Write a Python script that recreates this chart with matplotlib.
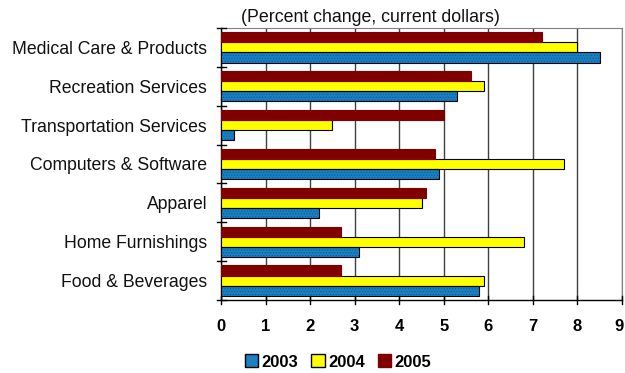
import matplotlib
matplotlib.use("Agg")
import matplotlib.pyplot as plt
import matplotlib.transforms as mtransforms
import numpy as np
from matplotlib.patches import Patch

plt.rcParams['font.family'] = ['Liberation Sans', 'DejaVu Sans']
plt.rcParams['hatch.linewidth'] = 0.5

categories = ["Food & Beverages", "Home Furnishings", "Apparel",
              "Computers & Software", "Transportation Services",
              "Recreation Services", "Medical Care & Products"]
v2003 = [5.8, 3.1, 2.2, 4.9, 0.3, 5.3, 8.5]
v2004 = [5.9, 6.8, 4.5, 7.7, 2.5, 5.9, 8.0]
v2005 = [2.7, 2.7, 4.6, 4.8, 5.0, 5.6, 7.2]
years = ["2003", "2004", "2005"]
xticks = list(range(10))

c2003, c2004, c2005 = "#1a80c4", "#ffff00", "#800000"
speckle = "#0d5a90"

fig = plt.figure(figsize=(6.25, 3.73), dpi=100)
ax = fig.add_axes([221/625, 1 - 300/373, 401/625, 272/373])

y = np.arange(len(categories))
h = 0.26
# textured fill, then a black outline on top
ax.barh(y - h, v2003, height=h, color=c2003, edgecolor=speckle, linewidth=0,
        hatch="......", zorder=3)
ax.barh(y - h, v2003, height=h, fill=False, edgecolor="black", linewidth=0.8,
        zorder=3.1)
ax.barh(y, v2004, height=h, color=c2004, edgecolor="black", linewidth=0.8, zorder=3)
ax.barh(y + h, v2005, height=h, color=c2005, edgecolor=c2005, linewidth=0.8, zorder=3)

ax.set_xlim(0, 9)
ax.set_ylim(-0.5, len(categories) - 0.5)
ax.set_xticks(xticks)
ax.set_xticklabels([str(t) for t in xticks], fontsize=12, fontweight="bold")
ax.set_yticks(y)
ax.set_yticklabels(categories, fontsize=12.7, color="#111111")
ax.tick_params(axis="y", length=0, pad=10)
ax.tick_params(axis="x", length=0, pad=14)

# keep the last x label inside the figure
last = ax.get_xticklabels()[-1]
last.set_transform(last.get_transform() +
                   mtransforms.ScaledTranslation(-3/100, 0, fig.dpi_scale_trans))

# boundary tick marks crossing the axes
for yb in np.arange(-0.5, len(categories), 1.0):
    ax.plot([-0.09, 0.11], [yb, yb], color="black", lw=1, clip_on=False, zorder=4)
for xt in xticks:
    ax.plot([xt, xt], [-0.5 - 0.1, -0.5 + 0.1], color="black", lw=1,
            clip_on=False, zorder=4)

ax.grid(axis="x", color="#404040", linewidth=1, zorder=1)
ax.grid(axis="y", visible=False)
for s in ("top", "right"):
    ax.spines[s].set_color("#808080")
for s in ("left", "bottom"):
    ax.spines[s].set_color("black")
    ax.spines[s].set_linewidth(1)

fig.text(370/625, 1 - 17/373, "(Percent change, current dollars)", fontsize=12.8,
         ha="center", va="center", color="#111111")

handles = [Patch(facecolor=c2003, edgecolor="black"),
           Patch(facecolor=c2004, edgecolor="black"),
           Patch(facecolor=c2005, edgecolor=c2005)]
fig.legend(handles, years, loc="center", bbox_to_anchor=(338/625, 1 - 362/373),
           ncol=3, frameon=False, prop={"weight": "bold", "size": 12},
           handlelength=0.8, handleheight=0.8, handletextpad=0.2,
           columnspacing=0.8, borderpad=0)

fig.savefig("out.png", dpi=100)
